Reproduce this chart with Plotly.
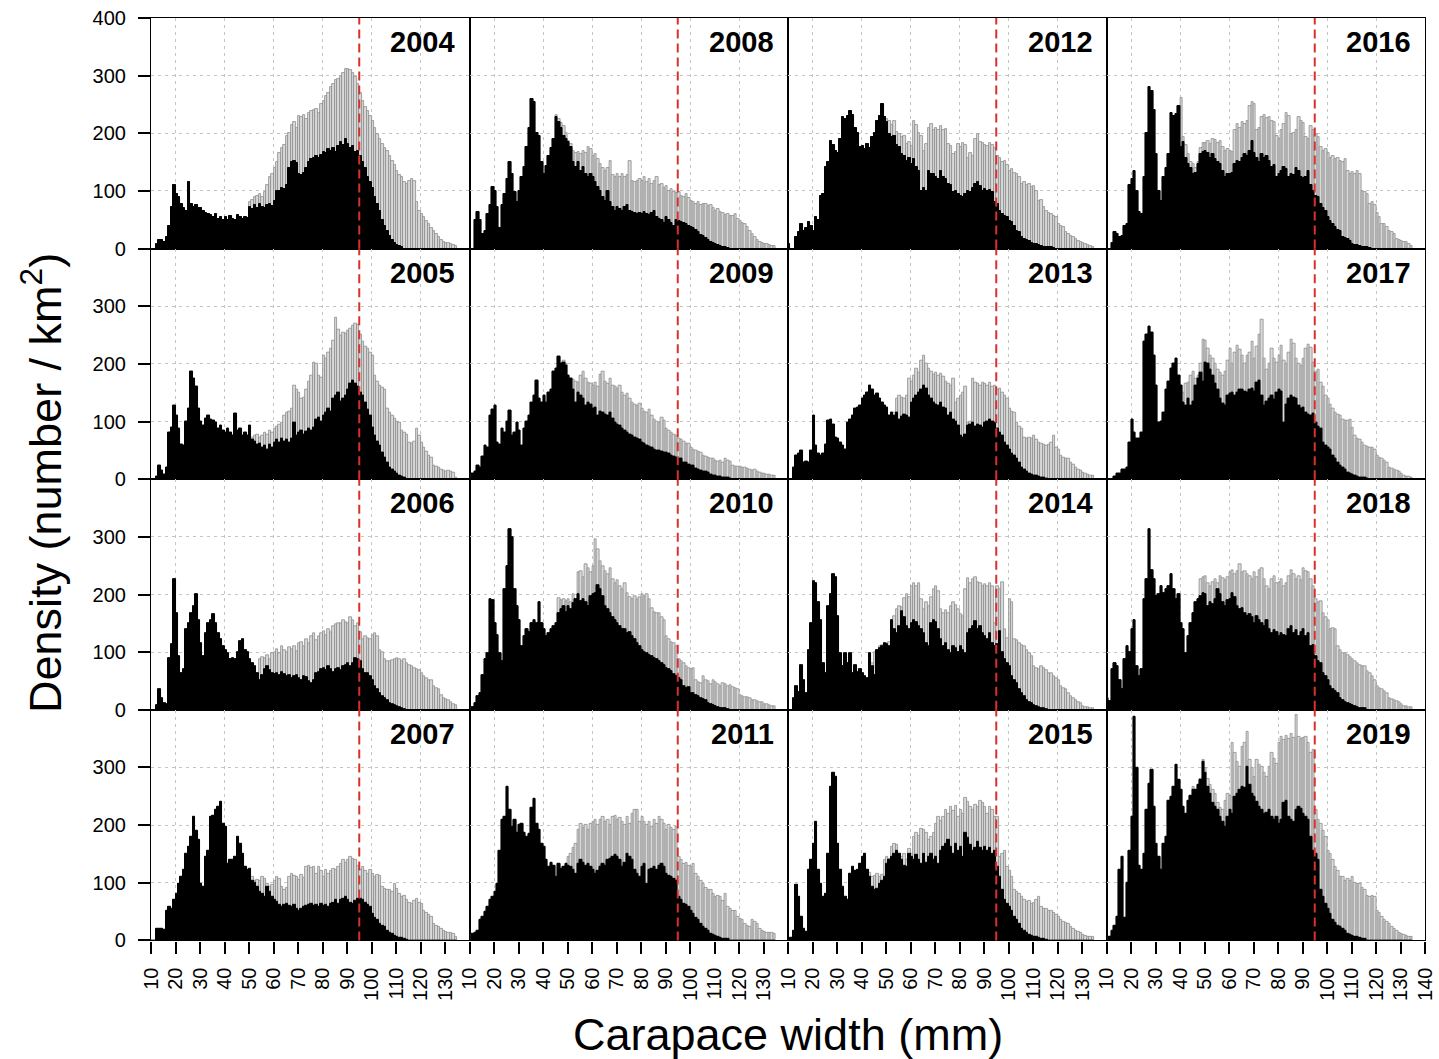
import numpy as np
import plotly.graph_objects as go

# 1-mm carapace-width classes: lower bounds 10 .. 134 mm
CW_MIN, CW_MAX = 10, 135
cw = np.arange(CW_MIN, CW_MAX)
LEGAL_CW = 95  # mm, dashed reference line

panel_years = [
    [2004, 2008, 2012, 2016],
    [2005, 2009, 2013, 2017],
    [2006, 2010, 2014, 2018],
    [2007, 2011, 2015, 2019],
]

x_ticks = list(range(10, 140, 10))
x_ticks_last = list(range(10, 150, 10))
x_grid = list(range(20, 140, 20))
y_ticks = [0, 100, 200, 300]

# Density (number / km^2) per 1-mm class.
# dens_black_YYYY : dark bars, starting at 10 mm.
# dens_all_YYYY   : total (grey bars), starting at dens_all_YYYY_from mm.
dens_black_2004 = [0,0,8,15,15,12,20,40,72,111, 95,89,77,70,66,115,78,72,75,70,
    70,66,62,60,58,55,60,52,55,50, 55,50,56,52,50,58,55,52,55,53,
    72,68,75,70,78,72,70,75,78,74, 82,100,100,105,103,110,140,150,152,148,
    130,128,132,140,150,155,158,160,158,162, 168,165,172,170,175,168,178,185,180,190,
    182,175,178,168,170,160,150,140,125,115, 105,90,78,65,50,40,30,22,15,10, 6,4,2]
dens_all_2004_from = 50
dens_all_2004 = [80,85,90,92,95,90,98,110,125,130, 140,150,165,175,180,195,200,215,220,210,
    230,228,232,225,235,238,240,242,235,250, 256,265,270,280,285,292,295,300,305,311,
    312,310,305,297,285,270,256,245,239,230, 222,210,199,190,181,175,170,160,152,145,
    135,128,124,115,112,118,120,118,80,66, 60,54,48,43,35,31,25,20,15,12, 10,9,8,7,5]

dens_black_2005 = [0,0,5,23,15,8,20,80,90,128, 110,87,60,58,100,122,186,175,160,122,
    100,93,105,110,104,102,98,88,93,85, 81,87,80,75,113,85,87,75,80,75,
    93,68,65,60,62,55,58,52,60,55, 64,68,64,70,66,68,64,70,98,75,
    80,85,78,82,87,84,90,104,107,100, 110,115,122,118,139,145,151,135,140,145,
    155,165,171,165,160,151,145,133,120,110, 90,75,65,58,46,38,29,20,17,14, 10,6,4,2]
dens_all_2005_from = 51
dens_all_2005 = [72,75,78,72,76,80,78,84,80, 87,92,95,98,110,115,118,122,162,155,
    150,139,142,156,170,180,203,200,180,176, 214,210,220,226,240,281,260,249,255,252,
    258,262,267,270,268,250,238,230,226,220, 214,180,170,162,159,155,122,116,110,105,
    100,98,84,80,78,64,62,66,87,75, 64,55,48,41,38,23,22,20,17,15, 14,15,14,12,3]

dens_black_2006 = [0,0,8,35,20,12,10,90,113,226, 168,93,64,70,139,150,168,180,200,156,
    116,93,133,151,155,165,150,133,122,110, 104,98,87,90,87,100,119,122,104,100,
    87,80,75,64,52,60,70,75,68,64, 62,64,60,66,62,58,60,55,58,60,
    55,52,58,56,50,46,52,64,66,70, 72,68,75,70,66,70,72,68,75,78,
    80,76,81,90,87,85,70,64,64,58, 52,41,36,29,23,20,17,12,10,8, 6,4,2,1]
dens_all_2006_from = 54
dens_all_2006 = [87,92,90,95,88,98, 100,105,98,110,104,100,108,105,110,102,
    115,118,110,122,116,128,133,120,128,133, 136,130,139,135,145,148,151,150,156,152,
    150,161,155,145,151,135,122,128,125,122, 130,133,128,104,100,87,85,84,86,87,
    90,88,85,87,80,78,75,72,70,68, 64,58,55,52,52,41,38,35,25,20, 18,16,14,10,8]

dens_black_2007 = [0,0,20,20,20,18,52,58,55,70, 81,98,110,122,151,162,180,214,190,174,
    98,93,145,156,214,217,226,232,240,203, 197,133,140,139,145,180,168,151,128,122,
    125,104,100,93,84,80,75,93,84,75, 70,67,62,58,62,64,60,58,62,55,
    52,55,58,60,62,64,60,62,58,64, 60,62,58,64,66,70,64,70,72,75,
    70,66,64,68,72,72,70,66,62,58, 46,40,35,29,26,23,17,14,12,8, 6,5,4,2,1]
dens_all_2007_from = 49
dens_all_2007 = [122, 118,110,104,105,104,110,106,98,93,96,
    104,110,106,93,88,92,110,116,112,110, 105,114,108,128,130,126,128,116,128,120,
    110,122,115,120,125,122,128,133,139,135, 140,145,142,139,130,122,128,120,116,122,
    116,110,114,112,93,90,87,88,85,98, 90,81,75,78,70,66,64,68,72,66,
    64,52,48,45,41,29,26,23,20,17, 15,14,13,12,6]

dens_black_2008 = [0,0,50,63,50,25,30,60,75,106, 100,72,35,75,95,120,150,130,98,80,
    100,124,141,176,210,259,255,200,195,150, 129,144,160,175,190,228,220,210,195,190,
    185,176,150,141,150,135,141,129,124,129, 125,115,106,100,90,83,100,80,72,66,
    72,69,66,72,75,66,63,62,60,62, 60,63,60,58,62,66,55,52,50,45,
    55,50,45,40,50,48,46,44,42,40, 38,35,32,28,24,22,18,15,12,10, 8,6,4,3,2,1]
dens_all_2008_from = 45
dens_all_2008 = [232,225,218,213,200, 187,181,170,165,168,164,170,166,176,172,
    160,164,155,147,140,135,140,152,128,125, 129,124,130,125,128,152,118,115,117,120,
    118,124,115,120,112,118,124,110,112,105, 108,100,104,98,96,98,92,89,94,88,
    82,80,78,80,76,78,77,74,75,70, 66,68,64,62,58,60,57,56,60,52,
    48,45,43,38,31,25,20,15,12,10, 8,8,6,5,4]

dens_black_2009 = [0,10,14,23,20,40,58,55,110,120, 128,64,60,87,80,100,119,75,80,98,
    85,58,87,100,110,133,145,171,140,133, 145,133,150,156,186,191,212,200,203,197,
    180,175,156,133,150,145,140,128,133,130, 122,125,110,118,116,112,110,115,105,98,
    95,93,87,84,80,78,75,72,70,68, 64,62,58,56,55,52,50,49,48,46,
    47,44,41,40,38,36,35,29,28,26, 24,23,18,17,15,14,13,12,8,7, 6,5,4,3,2,2,1]
dens_all_2009_from = 48
dens_all_2009 = [206,200, 174,168,172,170,168,180,186,175,168,165,
    162,168,160,182,186,170,165,174,162,160, 157,162,151,145,148,139,133,130,128,132,
    122,118,115,120,110,104,100,98,106,102, 87,84,80,78,75,70,68,65,62,61,
    55,52,50,48,46,41,40,38,36,35, 33,30,32,29,35,33,30,23,22,21,
    22,20,20,18,17,15,16,14,12,10, 9,8,8,6,6]

dens_black_2010 = [0,5,12,23,29,60,87,98,191,190, 151,130,98,84,209,249,313,300,209,180,
    156,110,128,139,135,151,156,150,186,151, 140,128,133,140,145,150,168,175,180,170,
    180,174,185,191,200,188,191,186,180,197, 200,203,217,210,197,180,174,168,160,156,
    150,145,139,140,133,135,128,122,115,110, 104,100,98,95,93,90,87,84,80,78,
    72,70,67,62,58,55,52,41,38,40, 29,28,26,23,20,18,17,12,10,8, 6,4,3,3,2,1]
dens_all_2010_from = 46
dens_all_2010 = [194,190,191,188, 191,186,200,190,238,240,230,252,245,238,
    249,296,278,258,249,240,235,245,226,220, 224,215,210,220,203,195,191,197,191,195,
    200,197,200,192,177,170,168,168,160,156, 128,122,118,115,110,87,85,81,75,72,
    70,72,52,48,46,58,52,49,45,52, 48,44,41,46,44,41,43,40,38,35,
    26,24,22,21,20,17,16,15,14,14, 10,9,8,7,7]

dens_black_2011 = [0,12,14,17,35,41,50,58,70,75, 85,98,156,210,214,267,226,197,209,186,
    200,203,186,180,185,230,246,203,191,168, 162,139,128,135,130,110,133,125,128,133,
    130,128,122,116,133,139,135,130,133,128, 122,116,120,128,133,130,139,142,145,148,
    145,139,128,135,151,145,140,122,116,110, 128,133,98,122,125,128,122,130,133,128,
    116,112,110,107,104,75,70,64,62,58, 52,46,40,35,28,23,20,17,12,10, 8,6,5,3,2,2]
dens_all_2011_from = 50
dens_all_2011 = [145,151,160,168,191,203,195,200,191,203,
    205,209,200,209,214,205,210,200,214,217, 209,212,205,200,215,203,220,226,227,205,
    214,205,200,205,197,209,203,214,210,203, 191,200,195,191,197,145,140,133,135,130,
    128,133,116,110,104,98,92,87,87,80, 75,77,75,68,81,58,55,52,52,41,
    38,35,29,26,23,35,32,29,20,17, 15,14,14,13,12]

dens_black_2012 = [8,0,0,20,28,43,31,35,46,40, 30,54,50,92,95,141,150,187,180,170,
    165,190,228,225,230,239,232,210,200,176, 178,172,181,175,193,200,222,230,251,228,
    220,199,193,196,180,176,164,160,152,158, 147,155,141,135,100,105,100,135,129,130,
    124,120,135,125,120,112,110,98,100,95, 92,89,95,100,98,105,112,115,108,100,
    104,100,102,98,80,77,66,60,56,54, 48,46,40,31,28,20,17,15,14,10, 8,8,6,4,3,3,2,2,1]
dens_all_2012_from = 50
dens_all_2012 = [225,222,215,222,202,198,193,195,181,185,
    178,222,215,200,195,170,181,210,216,205, 210,206,213,205,208,181,178,164,168,181,
    176,184,180,158,165,160,190,199,185,184, 180,178,184,180,175,161,158,150,152,145,
    135,138,132,130,125,112,115,110,112,106, 108,100,83,85,72,66,62,60,56,54,
    43,40,37,28,26,22,20,16,14,12, 9,8,7,4,3]

dens_black_2013 = [0,0,20,41,45,49,29,30,28,50, 110,58,45,41,45,60,101,104,95,72,
    70,64,58,52,98,104,110,122,125,128, 139,145,150,163,156,145,148,140,133,128,
    125,110,116,110,116,104,108,112,110,106, 133,140,145,151,156,162,158,145,140,133,
    130,128,133,125,122,110,115,104,100,93, 75,72,78,93,95,98,92,95,93,90,
    98,100,104,100,98,87,80,75,64,58, 52,45,41,35,29,20,17,14,9,8, 7,6,4,3,2,1]
dens_all_2013_from = 49
dens_all_2013 = [113, 113,110,116,115,139,145,142,140,145,174,
    170,180,191,185,205,214,200,191,186,182, 185,180,184,178,170,165,162,174,133,140,
    145,150,160,98,100,174,168,165,162,168, 165,162,168,160,162,156,158,150,145,139,
    122,118,116,98,92,87,72,70,72,70, 75,68,64,62,60,58,60,64,75,55,
    52,41,38,35,35,29,25,20,17,15, 12,10,8,7,6]

dens_black_2014 = [0,0,20,41,30,78,52,29,104,150, 223,220,186,156,81,64,180,200,235,230,
    162,98,75,98,80,98,64,78,66,70, 64,58,55,98,75,60,104,106,110,116,
    113,110,156,140,133,145,171,160,145,140, 151,156,152,145,140,133,116,110,151,156,
    152,140,122,110,115,104,98,110,106,100, 110,104,98,133,140,145,154,140,145,133,
    128,122,133,116,110,114,136,100,87,80, 75,58,52,46,35,29,23,17,14,12, 8,6,5,3,2,1]
dens_all_2014_from = 44
dens_all_2014 = [80,100,104,110,112,110,
    115,118,156,162,174,180,178,194,200,196, 214,220,215,219,191,174,186,180,195,209,
    214,205,174,168,172,168,180,186,182,174, 165,162,209,229,220,226,230,222,220,214,
    218,215,220,214,150,214,210,222,139,125, 191,186,122,120,115,112,110,104,98,93,
    75,72,70,75,72,68,64,64,58,55, 52,41,38,35,29,23,20,17,14,12, 6,5,4,3,3]

dens_black_2015 = [0,5,17,96,75,41,20,15,122,139, 168,206,122,98,75,81,151,267,290,284,
    168,122,93,75,70,116,128,120,122,133, 145,151,122,110,93,87,90,98,104,110,
    133,140,145,150,156,150,139,130,128,151, 145,139,148,140,133,150,135,145,151,140,
    145,133,156,162,168,174,162,151,168,155, 162,145,186,178,165,156,160,171,160,156,
    162,156,160,151,155,128,110,87,70,64, 58,52,41,35,29,20,17,14,9,8, 7,6,4,3,2,1]
dens_all_2015_from = 42
dens_all_2015 = [122,118,110,112,116,110,114,139,
    145,142,162,168,165,150,145,151,140,159, 150,180,186,182,194,191,186,174,180,186,
    203,214,208,214,226,220,232,225,234,214, 226,220,248,240,232,226,235,232,242,238,
    232,220,232,226,214,214,145,150,156,128, 120,110,87,84,81,75,70,67,68,64,
    66,70,75,58,55,54,52,52,48,44, 41,35,32,30,29,23,20,17,15,14, 9,8,7,6,6]

dens_black_2016 = [0,0,10,28,25,20,22,40,43,110, 121,135,100,63,60,124,200,280,274,240,
    164,100,83,124,140,164,236,230,233,248, 176,185,158,147,140,129,132,147,164,168,
    170,165,158,164,155,150,147,135,124,130, 129,132,147,152,150,158,164,160,170,187,
    165,158,150,164,158,160,152,141,145,124, 129,135,141,138,124,130,128,140,135,124,
    122,124,135,110,100,92,90,77,70,66, 54,48,43,37,33,31,20,18,16,14, 8,7,6,5,3,2,2,1]
dens_all_2016_from = 40
dens_all_2016 = [261,193,180,164,150,147,140,150,175,184,
    184,186,182,190,188,184,186,176,170,172, 170,168,205,216,210,220,216,222,248,254,
    250,205,210,228,231,226,228,222,220,196, 190,205,216,236,230,199,200,205,228,222,
    218,193,190,213,205,199,193,176,170,172, 165,158,160,155,158,152,150,156,135,130,
    133,129,135,130,100,98,95,77,80,75, 62,54,43,42,38,31,28,25,17,15, 13,12,11,8,5]

dens_black_2017 = [0,0,0,5,9,9,17,17,20,64, 104,80,70,70,80,238,250,264,255,214,
    162,98,100,116,156,170,191,200,209,180, 162,133,128,140,128,135,162,174,185,170,
    203,200,190,180,165,156,139,132,128,145, 148,151,145,151,155,156,152,150,155,158,
    152,168,171,145,128,135,140,145,138,151, 156,152,98,130,139,145,142,140,128,122,
    125,116,112,110,114,98,92,87,64,58, 55,52,41,35,29,23,20,17,12,10, 8,6,5,3,2,2,1]
dens_all_2017_from = 40
dens_all_2017 = [145,150,165,168,180,186,175,180,200,243,
    240,226,215,209,200,190,185,180,186,205, 226,200,220,232,225,215,200,215,220,238,
    210,230,250,277,209,190,200,226,210,203, 215,232,205,200,220,243,235,209,200,197,
    210,226,233,228,203,186,190,168,160,145, 139,130,122,116,112,110,104,101,102,104,
    90,75,70,68,64,58,56,55,54,52, 41,38,35,32,29,20,18,16,15,14, 9,7,5,4,3]

dens_black_2018 = [20,15,70,81,75,52,35,87,110,100, 139,156,75,58,70,191,226,313,243,226,
    197,200,214,203,210,214,235,209,191,200, 151,140,98,128,150,168,186,191,197,203,
    200,180,186,183,191,209,200,186,180,190, 191,203,195,180,174,176,168,162,165,160,
    151,162,155,150,145,156,139,133,138,135, 128,133,130,128,140,145,133,138,128,135,
    140,128,133,110,112,93,85,81,64,58, 52,41,35,32,29,20,17,14,12,10, 8,6,5,3,2,2]
dens_all_2018_from = 48
dens_all_2018 = [226,230, 232,220,214,222,226,220,232,228,225,230,
    238,243,235,240,252,238,240,235,232,226, 238,230,243,246,226,215,209,226,232,220,
    222,226,214,220,232,242,236,226,232,225, 246,240,238,226,214,191,186,188,168,160,
    156,139,142,139,110,104,98,98,95,92, 87,84,80,78,76,75,67,64,58,52,
    41,38,35,32,29,20,18,16,15,14, 9,7,6,5,5]

dens_black_2019 = [0,6,17,25,41,122,145,40,100,156, 214,388,300,130,122,150,226,272,296,232,
    168,145,122,168,180,243,249,267,304,278, 261,232,220,243,250,261,261,270,278,310,
    290,267,255,238,232,226,214,205,197,215, 226,220,249,255,262,267,265,301,270,255,
    249,240,232,226,220,222,226,215,209,214, 203,210,238,243,214,209,205,226,232,228,
    220,214,209,180,156,151,139,87,75,64, 55,46,35,30,26,23,20,17,12,10, 8,7,6,4,3,2]
dens_all_2019_from = 45
dens_all_2019 = [267,262,270,280,313,
    300,280,270,262,255,238,230,226,243,255, 250,342,325,310,301,336,342,362,313,300,
    284,313,305,301,290,284,301,325,315,307, 342,354,348,355,350,359,352,391,354,350,
    352,354,342,325,330,226,210,203,190,180, 156,150,139,128,120,110,110,104,106,104,
    110,100,98,98,92,87,78,76,78,75, 52,48,41,35,32,29,23,20,17,14, 12,10,8,7,6]

series = {
    2004: (dens_black_2004, dens_all_2004_from, dens_all_2004),
    2005: (dens_black_2005, dens_all_2005_from, dens_all_2005),
    2006: (dens_black_2006, dens_all_2006_from, dens_all_2006),
    2007: (dens_black_2007, dens_all_2007_from, dens_all_2007),
    2008: (dens_black_2008, dens_all_2008_from, dens_all_2008),
    2009: (dens_black_2009, dens_all_2009_from, dens_all_2009),
    2010: (dens_black_2010, dens_all_2010_from, dens_all_2010),
    2011: (dens_black_2011, dens_all_2011_from, dens_all_2011),
    2012: (dens_black_2012, dens_all_2012_from, dens_all_2012),
    2013: (dens_black_2013, dens_all_2013_from, dens_all_2013),
    2014: (dens_black_2014, dens_all_2014_from, dens_all_2014),
    2015: (dens_black_2015, dens_all_2015_from, dens_all_2015),
    2016: (dens_black_2016, dens_all_2016_from, dens_all_2016),
    2017: (dens_black_2017, dens_all_2017_from, dens_all_2017),
    2018: (dens_black_2018, dens_all_2018_from, dens_all_2018),
    2019: (dens_black_2019, dens_all_2019_from, dens_all_2019),
}


def class_array(values, start=CW_MIN):
    out = np.zeros(len(cw))
    i = start - CW_MIN
    vals = np.asarray(values[: len(cw) - i], dtype=float)
    out[i:i + len(vals)] = vals
    return out


# ---- page geometry (pixels) ----
W, H = 1439, 1059
X0, COLW = 151.0, 318.5
Y0, ROWH = 18.0, 230.6
FONT = "Liberation Sans, Arial, Helvetica, sans-serif"

fig = go.Figure()
layout = dict(
    width=W, height=H,
    margin=dict(l=0, r=0, t=0, b=0, autoexpand=False),
    paper_bgcolor="white", plot_bgcolor="white",
    barmode="overlay", bargap=0, showlegend=False,
    font=dict(family=FONT, size=20, color="black"),
)
shapes, annotations = [], []

for r, row in enumerate(panel_years):
    for c, year in enumerate(row):
        k = r * 4 + c + 1
        sfx = "" if k == 1 else str(k)
        black_vals, all_from, all_vals = series[year]
        black = class_array(black_vals)
        total = np.maximum(class_array(all_vals, all_from), black)
        xc = cw + 0.5

        fig.add_trace(go.Bar(
            x=xc, y=total, width=1.0, xaxis="x" + sfx, yaxis="y" + sfx,
            marker=dict(color="#d9d9d9", line=dict(color="#8c8c8c", width=0.8)),
            hoverinfo="skip"))
        fig.add_trace(go.Bar(
            x=xc, y=black, width=1.0, xaxis="x" + sfx, yaxis="y" + sfx,
            marker=dict(color="black", line=dict(color="black", width=1.0)),
            hoverinfo="skip"))

        left = X0 + c * COLW
        top = Y0 + r * ROWH
        bottom_row = r == 3
        first_col = c == 0

        layout["xaxis" + sfx] = dict(
            domain=[left / W, (left + COLW) / W], anchor="y" + sfx,
            range=[10, 140], tickmode="array", automargin=False,
            tickvals=x_ticks_last if c == 3 else x_ticks,
            showticklabels=bottom_row, ticks="outside" if bottom_row else "",
            ticklen=12, tickwidth=1.5, tickcolor="black", tickangle=-90,
            ticklabelstandoff=6,
            tickfont=dict(family=FONT, size=20, color="black"),
            showgrid=False, zeroline=False,
            minor=dict(tickvals=x_grid, showgrid=True, gridcolor="#c4c4c4",
                       griddash="3px,4px", gridwidth=1),
            showline=True, mirror=True, linecolor="black", linewidth=1.2,
        )
        layout["yaxis" + sfx] = dict(
            domain=[1 - (top + ROWH) / H, 1 - top / H], anchor="x" + sfx,
            range=[0, 400], tickmode="array", automargin=False,
            tickvals=y_ticks + ([400] if r == 0 else []),
            showticklabels=first_col, ticks="outside" if first_col else "",
            ticklen=12, tickwidth=1.5, tickcolor="black",
            ticklabelstandoff=8,
            tickfont=dict(family=FONT, size=20, color="black"),
            showgrid=True, gridcolor="#c4c4c4", griddash="3px,4px", gridwidth=1,
            zeroline=False,
            showline=True, mirror=True, linecolor="black", linewidth=1.2,
        )

        shapes.append(dict(
            type="line", xref="x" + sfx, yref="y" + sfx + " domain",
            x0=LEGAL_CW, x1=LEGAL_CW, y0=0, y1=1, layer="above",
            line=dict(color="#d9302c", width=2, dash="9px,5px")))

        annotations.append(dict(
            xref="x" + sfx + " domain", yref="y" + sfx + " domain",
            x=1, y=1, xanchor="right", yanchor="middle",
            xshift=-12, yshift=-24, showarrow=False,
            text="<b>%d</b>" % year,
            font=dict(family=FONT, size=29, color="black")))

annotations.append(dict(
    xref="paper", yref="paper", x=788 / W, y=1 - 1034 / H,
    xanchor="center", yanchor="middle", showarrow=False,
    text="Carapace width (mm)", font=dict(family=FONT, size=45, color="black")))
annotations.append(dict(
    xref="paper", yref="paper", x=42 / W, y=1 - 483 / H,
    xanchor="center", yanchor="middle", showarrow=False, textangle=-90,
    text="Density (number / km<sup>2</sup>)",
    font=dict(family=FONT, size=45, color="black")))

layout["shapes"] = shapes
layout["annotations"] = annotations
fig.update_layout(**layout)

fig.write_html("out.html")
